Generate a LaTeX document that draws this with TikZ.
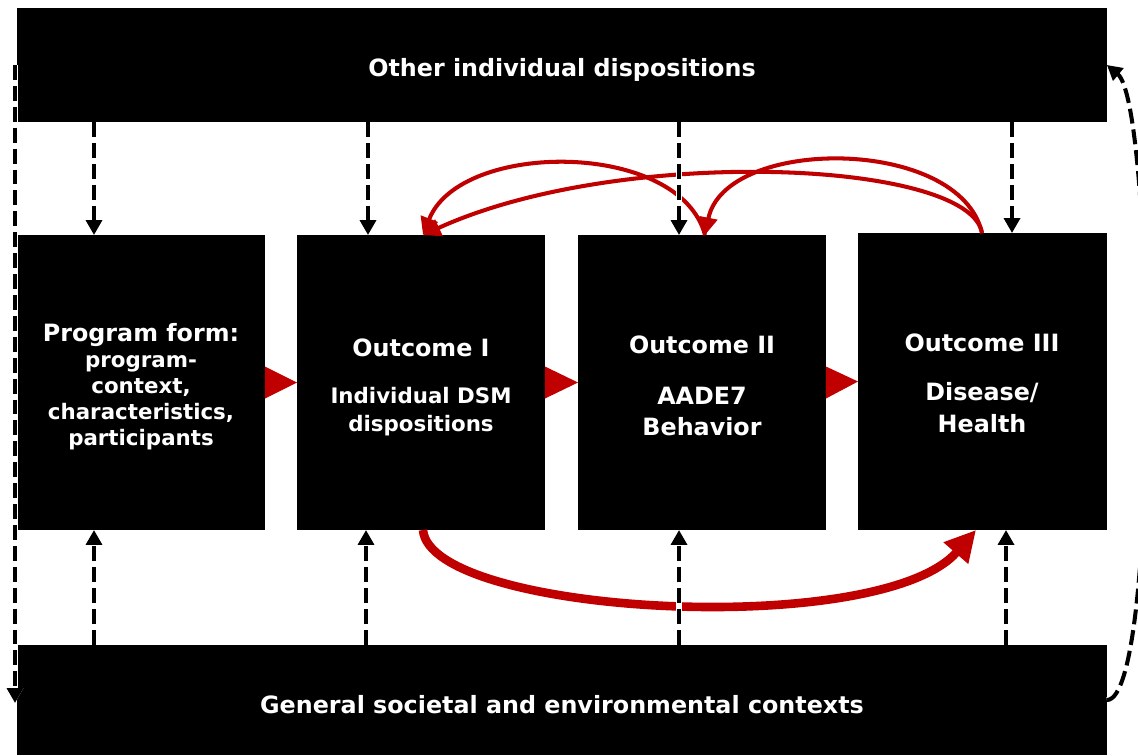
\documentclass[tikz,border=0pt]{standalone}
\usepackage{fontspec}
\setmainfont{DejaVu Sans}
\usetikzlibrary{arrows.meta,calc}
\definecolor{accent}{HTML}{C00000}
\begin{document}
\begin{tikzpicture}[x=0.02cm,y=-0.02cm,
  blk/.style={fill=black,draw=none,inner sep=0pt,outer sep=0pt},
  head/.style={text=white,font=\bfseries\fontsize{13.55}{15}\selectfont,anchor=base,inner sep=0pt},
  sub/.style={text=white,font=\bfseries\fontsize{12.15}{14}\selectfont,anchor=base,inner sep=0pt},
  dasharrow/.style={line width=2.3pt,dash pattern=on 8.5pt off 3.4pt,
    preaction={draw=white,line width=3.2pt},
    -{Triangle[length=8.5pt,width=9pt]}},
  thinred/.style={draw=accent,line width=2.3pt,-{Triangle[length=10pt,width=10pt]}},
  thickred/.style={draw=accent,line width=4.9pt,-{Triangle[length=17.5pt,width=17.5pt]}},
  redtri/.style={fill=accent,draw=none}
]
\useasboundingbox (0,0) rectangle (1138,755);

% black panels
\node[blk,minimum width=21.8cm,minimum height=2.28cm] (top) at (562,65) {};
\node[blk,minimum width=21.8cm,minimum height=2.2cm] (bot) at (562,700) {};
\node[blk,minimum width=4.96cm,minimum height=5.9cm] (b1) at (141,382.5) {};
\node[blk,minimum width=4.96cm,minimum height=5.9cm] (b2) at (421,382.5) {};
\node[blk,minimum width=4.96cm,minimum height=5.9cm] (b3) at (702,382.5) {};
\node[blk,minimum width=4.98cm,minimum height=5.94cm] (b4) at (982.5,381.5) {};

% labels
\node[head] (toptxt) at (562,76) {Other individual dispositions};
\node[head] (bottxt) at (562,713) {General societal and environmental contexts};

\node[head] (t1a) at (141,341) {Program form:};
\node[sub]  (t1b) at (141,367) {program-};
\node[sub]  (t1c) at (141,393) {context,};
\node[sub]  (t1d) at (141,419) {characteristics,};
\node[sub]  (t1e) at (141,445) {participants};

\node[head] (t2a) at (421,356) {Outcome I};
\node[sub]  (t2b) at (421,403) {Individual DSM};
\node[sub]  (t2c) at (421,431) {dispositions};

\node[head] (t3a) at (702,353) {Outcome II};
\node[head] (t3b) at (702,404) {AADE7};
\node[head] (t3c) at (702,435) {Behavior};

\node[head] (t4a) at (982,351) {Outcome III};
\node[head] (t4b) at (982,400) {Disease/};
\node[head] (t4c) at (982,432) {Health};

% red triangles between the outcome boxes
\fill[redtri] ($(b1.east)+(0,-16)$) -- ($(b1.east)+(0,16)$) -- (b2.west) -- cycle;
\fill[redtri] ($(b2.east)+(0,-16)$) -- ($(b2.east)+(0,16)$) -- (b3.west) -- cycle;
\fill[redtri] ($(b3.east)+(0,-16)$) -- ($(b3.east)+(0,16)$) -- (b4.west) -- cycle;

% feedback arcs
\coordinate (r2) at (423,0);
\coordinate (r3) at (705,0);
\coordinate (r4) at (982,0);
\coordinate (rb) at (976,0);
\draw[thinred] (b3.north -| r3) .. controls (680,140) and (460,140) .. (b2.north -| r2);
\draw[thinred] (b4.north -| r4) .. controls (960,136) and (725,136) .. (b3.north -| r3);
\draw[thinred] (b4.north -| r4) .. controls (970,160) and (620,145) .. (b2.north -| r2);
\draw[thickred] (b2.south -| r2) .. controls (430,615) and (880,640) .. (b4.south -| rb);

% dashed influences from the context panels
\coordinate (xa) at (94,0);
\coordinate (xb) at (368,0);
\coordinate (xc) at (679,0);
\coordinate (xd) at (1012,0);
\coordinate (ya) at (94,0);
\coordinate (yb) at (366,0);
\coordinate (yc) at (679,0);
\coordinate (yd) at (1006,0);
\draw[dasharrow] (top.south -| xa) -- (b1.north -| xa);
\draw[dasharrow] (top.south -| xb) -- (b2.north -| xb);
\draw[dasharrow] (top.south -| xc) -- (b3.north -| xc);
\draw[dasharrow] (top.south -| xd) -- (b4.north -| xd);
\draw[dasharrow] (bot.north -| ya) -- (b1.south -| ya);
\draw[dasharrow] (bot.north -| yb) -- (b2.south -| yb);
\draw[dasharrow] (bot.north -| yc) -- (b3.south -| yc);
\draw[dasharrow] (bot.north -| yd) -- (b4.south -| yd);

% outer loop between the two context panels
\coordinate (lstart) at (15,65);
\coordinate (lend) at (15,703);
\draw[dasharrow] (lstart) -- (lend);
\draw[dasharrow] (bot.east) .. controls (1160,700) and (1155,105) .. (top.east);
\end{tikzpicture}
\end{document}
